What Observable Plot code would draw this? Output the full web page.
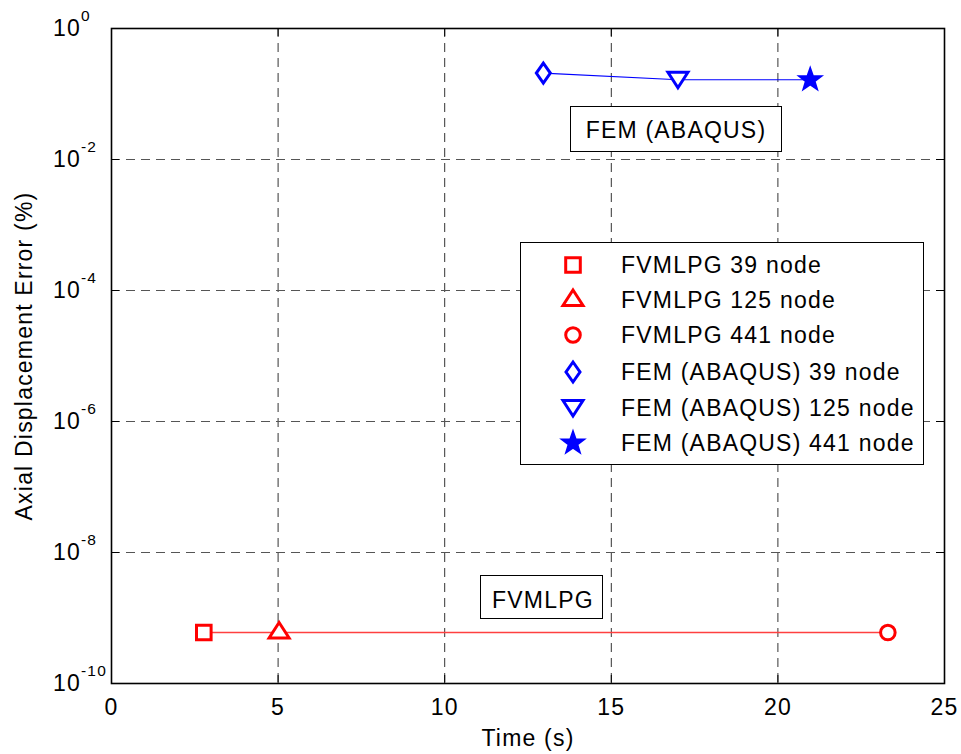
<!DOCTYPE html>
<html>
<head>
<meta charset="utf-8">
<script src="https://cdn.jsdelivr.net/npm/d3@7"></script>
<script src="https://cdn.jsdelivr.net/npm/@observablehq/plot@0.6"></script>
<style>
  html, body { margin: 0; padding: 0; background: #fff; overflow: hidden; }
  #chart svg text { letter-spacing: 1.2px; }
</style>
</head>
<body>
<div id="chart"></div>
<script>
// ---- data ----
const nodes = [39, 125, 441];
const fvmlpgTime = [2.77, 5.03, 23.3];
const fvmlpgError = [6.0e-10, 6.0e-10, 6.0e-10];
const femTime = [12.96, 17.0, 20.97];
const femError = [0.209, 0.165, 0.165];
const xTicks = [0, 5, 10, 15, 20, 25];
const yTicks = [1e0, 1e-2, 1e-4, 1e-6, 1e-8, 1e-10];
const xGrid = [5, 10, 15, 20];
const yGrid = [1e-2, 1e-4, 1e-6, 1e-8];
const legendLabels = [
  "FVMLPG 39 node", "FVMLPG 125 node", "FVMLPG 441 node",
  "FEM (ABAQUS) 39 node", "FEM (ABAQUS) 125 node", "FEM (ABAQUS) 441 node"
];
const xLabel = "Time (s)";
const yLabel = "Axial Displacement Error (%)";
const femNote = "FEM (ABAQUS)";
const fvNote = "FVMLPG";

// ---- marker shapes ----
const sym = {
  square: {draw(c) { const h = 7.3; c.moveTo(-h, -h); c.lineTo(h, -h); c.lineTo(h, h); c.lineTo(-h, h); c.closePath(); }},
  triUp: {draw(c) { c.moveTo(0, -10); c.lineTo(10, 5.5); c.lineTo(-10, 5.5); c.closePath(); }},
  circle: {draw(c) { c.moveTo(7.3, 0); c.arc(0, 0, 7.3, 0, 2 * Math.PI); c.closePath(); }},
  diamond: {draw(c) { c.moveTo(0, -10); c.lineTo(7, 0); c.lineTo(0, 10); c.lineTo(-7, 0); c.closePath(); }},
  triDown: {draw(c) { c.moveTo(0, 8); c.lineTo(10, -7.5); c.lineTo(-10, -7.5); c.closePath(); }},
  star: {draw(c) {
    for (let i = 0; i < 10; i++) {
      const r = i % 2 ? 4.6 : 11.5;
      const a = -Math.PI / 2 + i * Math.PI / 5;
      const x = r * Math.cos(a), y = r * Math.sin(a);
      if (i === 0) c.moveTo(x, y); else c.lineTo(x, y);
    }
    c.closePath();
  }}
};
const RED = "#ff0000", BLUE = "#0000ff";
const fvSymbols = [sym.square, sym.triUp, sym.circle];
const femSymbols = [sym.diamond, sym.triDown, sym.star];

const fv = fvmlpgTime.map((t, i) => ({t, e: fvmlpgError[i], n: nodes[i], i}));
const fem = femTime.map((t, i) => ({t, e: femError[i], n: nodes[i], i}));

const W = 961, H = 754;
const mL = 111, mR = 17, mT = 28, mB = 71;
const innerW = W - mL - mR, innerH = H - mT - mB;
const FONT = "'Liberation Sans', Arial, Helvetica, sans-serif";

const dotMarks = [];
fv.forEach((d, i) => dotMarks.push(Plot.dot([d], {x: "t", y: "e", symbol: fvSymbols[i], r: 8, stroke: RED, fill: "white", strokeWidth: 3})));
fem.forEach((d, i) => dotMarks.push(Plot.dot([d], {x: "t", y: "e", symbol: femSymbols[i], r: 8, stroke: BLUE, fill: i === 2 ? BLUE : "white", strokeWidth: i === 2 ? 2 : 3})));

const chart = Plot.plot({
  width: W, height: H,
  marginLeft: mL, marginRight: mR, marginTop: mT, marginBottom: mB,
  style: {fontFamily: FONT, fontSize: "23px", background: "white", color: "black", overflow: "visible"},
  x: {domain: [0, 25]},
  y: {type: "log", domain: [1e-10, 1]},
  marks: [
    Plot.ruleX(xGrid, {x: d => d, stroke: "#333", strokeWidth: 1, strokeDasharray: "9,6"}),
    Plot.ruleY(yGrid, {y: d => d, stroke: "#555", strokeWidth: 1, strokeDasharray: "9,6"}),
    Plot.line(fv, {x: "t", y: "e", stroke: "#ff4040", strokeWidth: 1.4}),
    Plot.line(fem, {x: "t", y: "e", stroke: BLUE, strokeWidth: 1.2}),
    ...dotMarks,
    Plot.tickX(xTicks, {x: d => d, insetTop: innerH - 8, stroke: "black"}),
    Plot.tickX(xTicks, {x: d => d, insetBottom: innerH - 8, stroke: "black"}),
    Plot.tickY(yTicks, {y: d => d, insetRight: innerW - 8, stroke: "black"}),
    Plot.tickY(yTicks, {y: d => d, insetLeft: innerW - 8, stroke: "black"}),
    Plot.frame({stroke: "black", strokeWidth: 1.6}),
    Plot.axisX(xTicks, {anchor: "bottom", tickSize: 0, tickPadding: 15, label: null, fontSize: 23, tickFormat: d => String(d)}),
    Plot.axisY(yTicks, {anchor: "left", tickSize: 0, tickPadding: 58.5, textAnchor: "start", label: null, fontSize: 23,
      tickFormat: d => "10^" + Math.round(Math.log10(d))}),
    Plot.text([xLabel], {frameAnchor: "bottom", dy: 55, fontSize: 23, fill: "black", textAnchor: "middle", lineAnchor: "middle"}),
    Plot.text([yLabel], {frameAnchor: "left", dx: -87, rotate: -90, fontSize: 23, fill: "black", textAnchor: "middle", lineAnchor: "middle"})
  ]
});

document.getElementById("chart").appendChild(chart);

// superscript exponents on y tick labels
const ns = "http://www.w3.org/2000/svg";
chart.querySelectorAll('g[aria-label="y-axis tick label"] text').forEach(t => {
  const m = t.textContent.match(/^10\^(-?\d+)$/);
  if (!m) return;
  t.textContent = "10";
  const ts = document.createElementNS(ns, "tspan");
  ts.setAttribute("dy", "-15");
  ts.setAttribute("font-size", "15.5");
  ts.textContent = m[1];
  t.appendChild(ts);
});

// annotation boxes and legend
const svg = d3.select(chart);
function noteBox(x, y, w, h, label, tx, ty, anchor) {
  const g = svg.append("g");
  g.append("rect").attr("x", x).attr("y", y).attr("width", w).attr("height", h)
    .attr("fill", "white").attr("stroke", "black").attr("stroke-width", 1);
  g.append("text").attr("x", tx).attr("y", ty).attr("text-anchor", anchor)
    .attr("font-size", 23).attr("fill", "black").style("letter-spacing", "1.2px").text(label);
}
noteBox(570.5, 106.5, 211, 45, femNote, 676, 137.5, "middle");
noteBox(480.5, 575.5, 122, 43, fvNote, 492, 607.5, "start");

const lg = svg.append("g");
lg.append("rect").attr("x", 520.5).attr("y", 242.5).attr("width", 403).attr("height", 222)
  .attr("fill", "white").attr("stroke", "black").attr("stroke-width", 1);
const rowY = [265, 300, 335, 372, 408, 443];
const legendSyms = [...fvSymbols, ...femSymbols];
legendLabels.forEach((lab, i) => {
  const isFem = i >= 3;
  const col = isFem ? BLUE : RED;
  const s = legendSyms[i];
  const star = s === sym.star;
  lg.append("path")
    .attr("d", d3.symbol().type(s).size(64)())
    .attr("transform", `translate(573,${rowY[i]})`)
    .attr("fill", star ? BLUE : "white").attr("stroke", col).attr("stroke-width", star ? 2 : 3)
    .attr("stroke-linejoin", "miter");
  lg.append("text").attr("x", 621).attr("y", rowY[i] + 8)
    .attr("text-anchor", "start")
    .attr("font-size", 23).attr("fill", "black").style("letter-spacing", "1.2px").text(lab);
});
</script>
</body>
</html>
